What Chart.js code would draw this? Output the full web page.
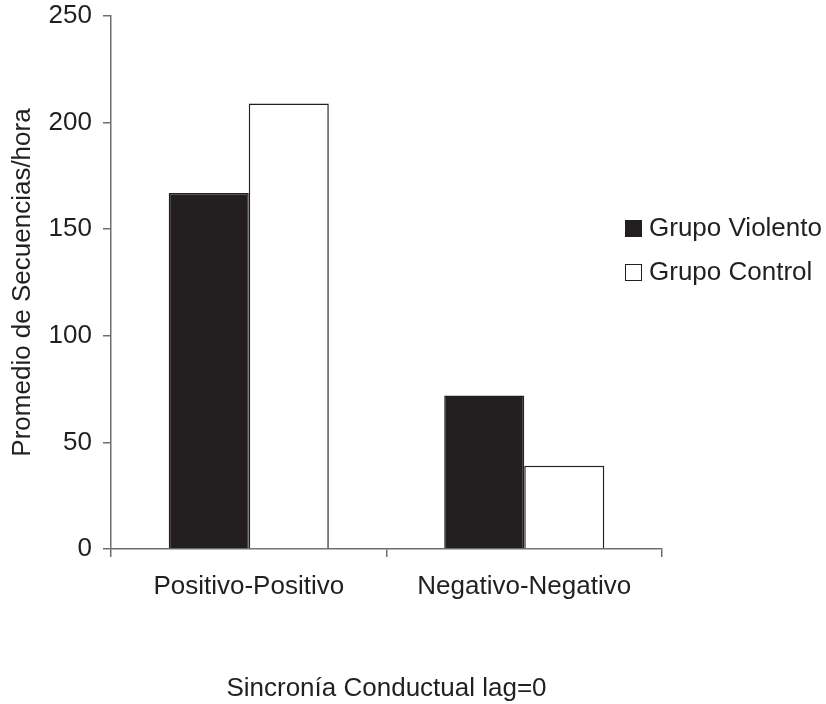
<!DOCTYPE html>
<html>
<head>
<meta charset="utf-8">
<script src="https://cdn.jsdelivr.net/npm/chart.js@4/dist/chart.umd.min.js"></script>
<style>
  body { margin: 0; background: #fff; }
  #wrap { position: relative; width: 826px; height: 704px; }
  #legend { position: absolute; left: 625px; top: 205px; font: 26px "Liberation Sans", Arial, sans-serif; color: #231f20; }
  #legend div { height: 44px; line-height: 44px; white-space: nowrap; }
  #legend span.box { display: inline-block; width: 17px; height: 17px; box-sizing: border-box; margin-right: 7px; vertical-align: -1px; border: 1.5px solid #231f20; }
</style>
</head>
<body>
<div id="wrap">
  <canvas id="chart" width="826" height="704"></canvas>
  <div id="legend"></div>
</div>
<script>
const categories = ['Positivo-Positivo', 'Negativo-Negativo'];
const violento = [167, 72];
const control = [209, 39];
const seriesNames = ['Grupo Violento', 'Grupo Control'];
const yTicks = [0, 50, 100, 150, 200, 250];

const ink = '#231f20';
const axisGray = '#6d6e71';
const font = { family: '"Liberation Sans", Arial, sans-serif', size: 26 };

const datasets = [
  { label: seriesNames[0], data: violento, backgroundColor: ink, borderColor: ink, borderWidth: 1.5 },
  { label: seriesNames[1], data: control, backgroundColor: '#ffffff', borderColor: ink, borderWidth: 1.5 },
];

// legend as html so it can sit over the plot's right edge like the original
const legend = document.getElementById('legend');
datasets.forEach(ds => {
  const row = document.createElement('div');
  const box = document.createElement('span');
  box.className = 'box';
  box.style.background = ds.backgroundColor;
  row.appendChild(box);
  row.appendChild(document.createTextNode(ds.label));
  legend.appendChild(row);
});

new Chart(document.getElementById('chart'), {
  type: 'bar',
  data: { labels: categories, datasets },
  options: {
    responsive: false,
    animation: false,
    layout: { padding: { top: 16, right: 164, bottom: 0, left: 0 } },
    categoryPercentage: 0.581,
    barPercentage: 1,
    plugins: { legend: { display: false }, tooltip: { enabled: false } },
    scales: {
      x: {
        grid: { offset: true, drawOnChartArea: false, drawTicks: true, tickLength: 8, color: axisGray, lineWidth: 1.5 },
        border: { display: true, color: axisGray, width: 1.5 },
        ticks: { color: ink, font, padding: 14 },
        title: { display: true, text: 'Sincronía Conductual lag=0', color: ink, font, padding: { top: 0, bottom: 0 } },
        afterFit: s => { s.height = 155; },
      },
      y: {
        min: 0,
        max: 250,
        afterBuildTicks: s => { s.ticks = yTicks.map(v => ({ value: v })); },
        grid: { drawOnChartArea: false, drawTicks: true, tickLength: 8, color: axisGray, lineWidth: 1.5 },
        border: { display: true, color: axisGray, width: 1.5 },
        ticks: { color: ink, font, padding: 11 },
        title: { display: true, text: 'Promedio de Secuencias/hora', color: ink, font, padding: { top: 7, bottom: 0 } },
        // top label may overhang; let the layout padding decide the plot top
        afterFit: s => { s.width = 111; s.paddingTop = 0; s.paddingBottom = 0; },
      },
    },
  },
});
</script>
</body>
</html>
